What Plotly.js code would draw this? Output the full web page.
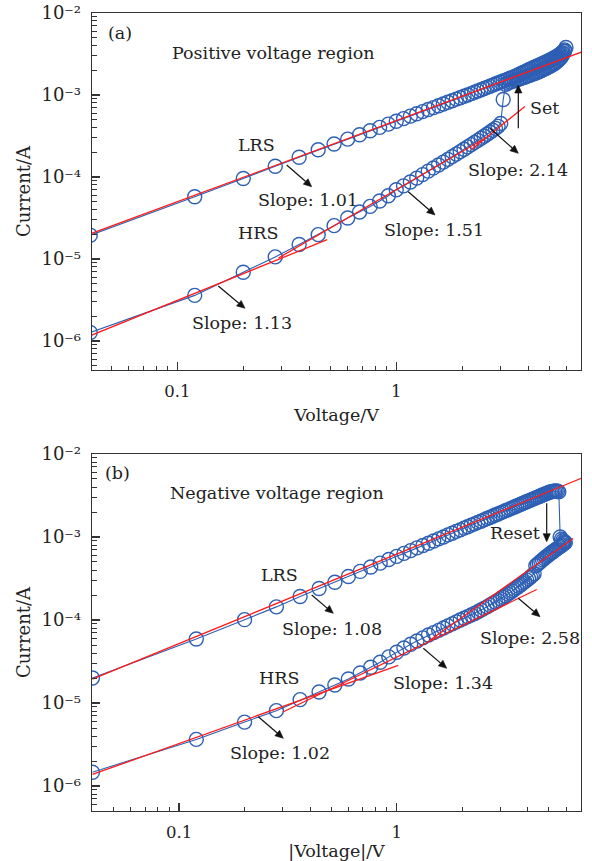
<!DOCTYPE html>
<html><head><meta charset="utf-8">
<script src="https://cdn.plot.ly/plotly-3.0.1.min.js"></script>
<style>html,body{margin:0;padding:0;background:#fff}#chart{width:592px;height:861px}</style>
</head><body><div id="chart"></div>
<script>
// ---------- data ----------
const sweepUpVoltage = [0.04,0.12,0.20,0.28,0.36,0.44,0.52,0.60,0.68,0.76,0.84,0.92,1.00,1.08,1.16,1.24,1.32,1.40,1.48,1.56,1.64,1.72,1.80,1.88,1.96,2.04,2.12,2.20,2.28,2.36,2.44,2.52,2.60,2.68,2.76,2.84,2.92,3.00,3.08,3.16,3.24,3.32,3.40,3.48,3.56,3.64,3.72,3.80,3.88,3.96,4.04,4.12,4.20,4.28,4.36,4.44,4.52,4.60,4.68,4.76,4.84,4.92,5.00,5.08,5.16,5.24,5.32,5.40,5.48,5.56,5.64,5.72,5.80,5.88,5.96];
const sweepDownVoltage = [5.88,5.80,5.72,5.64,5.56,5.48,5.40,5.32,5.24,5.16,5.08,5.00,4.92,4.84,4.76,4.68,4.60,4.52,4.44,4.36,4.28,4.20,4.12,4.04,3.96,3.88,3.80,3.72,3.64,3.56,3.48,3.40,3.32,3.24,3.16,3.08,3.00,2.92,2.84,2.76,2.68,2.60,2.52,2.44,2.36,2.28,2.20,2.12,2.04,1.96,1.88,1.80,1.72,1.64,1.56,1.48,1.40,1.32,1.24,1.16,1.08,1.00,0.92,0.84,0.76,0.68,0.60,0.52,0.44,0.36,0.28,0.20,0.12,0.04];

// (a) positive sweep: HRS up to Set, then LRS
const posUpCurrent = [1.27e-6,3.6e-6,6.9e-6,1.06e-5,1.50e-5,1.98e-5,2.55e-5,3.16e-5,3.74e-5,4.38e-5,5.1e-5,5.9e-5,7.0e-5,7.8e-5,8.7e-5,9.7e-5,1.07e-4,1.18e-4,1.29e-4,1.40e-4,1.52e-4,1.64e-4,1.77e-4,1.90e-4,2.04e-4,2.18e-4,2.33e-4,2.48e-4,2.64e-4,2.80e-4,2.97e-4,3.14e-4,3.32e-4,3.51e-4,3.71e-4,3.92e-4,4.14e-4,4.5e-4,8.8e-4,1.35e-3,1.40e-3,1.44e-3,1.47e-3,1.50e-3,1.53e-3,1.56e-3,1.60e-3,1.63e-3,1.66e-3,1.70e-3,1.73e-3,1.76e-3,1.80e-3,1.83e-3,1.87e-3,1.91e-3,1.95e-3,1.99e-3,2.03e-3,2.08e-3,2.12e-3,2.17e-3,2.22e-3,2.27e-3,2.33e-3,2.39e-3,2.46e-3,2.54e-3,2.63e-3,2.73e-3,2.85e-3,3.0e-3,3.2e-3,3.45e-3,3.8e-3];
const posDownCurrent = [3.55e-3,3.4e-3,3.28e-3,3.18e-3,3.1e-3,3.02e-3,2.95e-3,2.88e-3,2.82e-3,2.76e-3,2.70e-3,2.64e-3,2.58e-3,2.53e-3,2.48e-3,2.43e-3,2.38e-3,2.33e-3,2.28e-3,2.23e-3,2.18e-3,2.13e-3,2.08e-3,2.03e-3,1.98e-3,1.93e-3,1.88e-3,1.83e-3,1.78e-3,1.73e-3,1.68e-3,1.64e-3,1.60e-3,1.56e-3,1.52e-3,1.48e-3,1.44e-3,1.40e-3,1.36e-3,1.32e-3,1.28e-3,1.24e-3,1.20e-3,1.16e-3,1.12e-3,1.08e-3,1.04e-3,1.00e-3,9.65e-4,9.27e-4,8.9e-4,8.52e-4,8.15e-4,7.77e-4,7.4e-4,7.02e-4,6.65e-4,6.27e-4,5.9e-4,5.52e-4,5.15e-4,4.78e-4,4.41e-4,4.03e-4,3.66e-4,3.28e-4,2.90e-4,2.53e-4,2.15e-4,1.74e-4,1.35e-4,9.6e-5,5.75e-5,1.95e-5];

// (b) negative sweep: LRS up to Reset, then HRS
const negUpCurrent = [2.0e-5,5.9e-5,1.01e-4,1.44e-4,1.92e-4,2.40e-4,2.85e-4,3.35e-4,3.85e-4,4.35e-4,4.85e-4,5.35e-4,5.85e-4,6.35e-4,6.85e-4,7.4e-4,7.9e-4,8.4e-4,8.95e-4,9.5e-4,1.0e-3,1.06e-3,1.11e-3,1.17e-3,1.22e-3,1.28e-3,1.33e-3,1.39e-3,1.44e-3,1.50e-3,1.55e-3,1.61e-3,1.67e-3,1.72e-3,1.78e-3,1.84e-3,1.89e-3,1.95e-3,2.01e-3,2.07e-3,2.12e-3,2.18e-3,2.24e-3,2.30e-3,2.36e-3,2.42e-3,2.48e-3,2.54e-3,2.60e-3,2.66e-3,2.72e-3,2.78e-3,2.84e-3,2.90e-3,2.96e-3,3.02e-3,3.08e-3,3.14e-3,3.20e-3,3.26e-3,3.32e-3,3.38e-3,3.43e-3,3.48e-3,3.52e-3,3.55e-3,3.57e-3,3.58e-3,3.55e-3,3.5e-3,1.0e-3,9.4e-4,9.0e-4,8.8e-4,8.6e-4];
const negDownCurrent = [8.4e-4,8.1e-4,7.9e-4,7.7e-4,7.5e-4,7.3e-4,7.1e-4,6.9e-4,6.7e-4,6.5e-4,6.3e-4,6.1e-4,5.9e-4,5.7e-4,5.5e-4,5.3e-4,5.1e-4,4.9e-4,4.7e-4,4.5e-4,3.6e-4,3.45e-4,3.3e-4,3.15e-4,3.02e-4,2.9e-4,2.78e-4,2.66e-4,2.55e-4,2.44e-4,2.34e-4,2.24e-4,2.14e-4,2.05e-4,1.96e-4,1.88e-4,1.80e-4,1.72e-4,1.65e-4,1.58e-4,1.51e-4,1.44e-4,1.38e-4,1.32e-4,1.26e-4,1.20e-4,1.15e-4,1.10e-4,1.05e-4,1.0e-4,9.5e-5,9.0e-5,8.5e-5,8.0e-5,7.5e-5,7.05e-5,6.6e-5,6.1e-5,5.6e-5,5.1e-5,4.6e-5,4.1e-5,3.6e-5,3.1e-5,2.7e-5,2.3e-5,1.95e-5,1.65e-5,1.36e-5,1.1e-5,8.1e-6,5.9e-6,3.65e-6,1.47e-6];

// fitted lines (end points)
const fitA_LRS_V = [0.04, 7.0],   fitA_LRS_I = [2.02e-5, 3.33e-3];
const fitA_H1_V  = [0.04, 0.483], fitA_H1_I  = [1.16e-6, 1.72e-5];
const fitA_H2_V  = [0.29, 2.6],   fitA_H2_I  = [1.03e-5, 3.08e-4];
const fitA_H3_V  = [2.2, 3.87],   fitA_H3_I  = [2.15e-4, 7.26e-4];
const fitB_LRS_V = [0.04, 7.05],  fitB_LRS_I = [1.94e-5, 5.1e-3];
const fitB_H1_V  = [0.04, 1.017], fitB_H1_I  = [1.38e-6, 2.85e-5];
const fitB_H2_V  = [0.3, 4.4],    fitB_H2_I  = [7.8e-6, 2.33e-4];
const fitB_H3_V  = [1.42, 6.47],  fitB_H3_I  = [5.7e-5, 9.6e-4];

const xMajor = [0.1, 1];
const xMajorText = ['0.1', '1'];
const xMinor = [0.05,0.06,0.07,0.08,0.09,0.2,0.3,0.4,0.5,0.6,0.7,0.8,0.9,2,3,4,5,6];
const yMajor = [1e-6,1e-5,1e-4,1e-3,1e-2];
const yMajorText = ['10⁻⁶','10⁻⁵','10⁻⁴','10⁻³','10⁻²'];
const yMinor = [5e-7,6e-7,7e-7,8e-7,9e-7,2e-6,3e-6,4e-6,5e-6,6e-6,7e-6,8e-6,9e-6,2e-5,3e-5,4e-5,5e-5,6e-5,7e-5,8e-5,9e-5,2e-4,3e-4,4e-4,5e-4,6e-4,7e-4,8e-4,9e-4,2e-3,3e-3,4e-3,5e-3,6e-3,7e-3,8e-3,9e-3];

// ---------- styling ----------
const FONT = 'DejaVu Serif';
const BLUE = '#2d5fb4';
const RED = '#ff1a1a';
const AX = '#333';

function dataTrace(xa, ya, v, i) {
  return {x: v, y: i, xaxis: xa, yaxis: ya, mode: 'lines+markers', type: 'scatter',
    line: {color: BLUE, width: 1.1},
    marker: {symbol: 'circle-open', size: 14, color: BLUE, line: {width: 1.4, color: BLUE}},
    hoverinfo: 'skip'};
}
function fitTrace(xa, ya, v, i) {
  return {x: v, y: i, xaxis: xa, yaxis: ya, mode: 'lines', type: 'scatter',
    line: {color: RED, width: 1.3}, hoverinfo: 'skip'};
}

const traces = [
  dataTrace('x','y', sweepUpVoltage.concat(sweepDownVoltage), posUpCurrent.concat(posDownCurrent)),
  dataTrace('x2','y2', sweepUpVoltage.concat(sweepDownVoltage), negUpCurrent.concat(negDownCurrent)),
  fitTrace('x','y', fitA_LRS_V, fitA_LRS_I),
  fitTrace('x','y', fitA_H1_V, fitA_H1_I),
  fitTrace('x','y', fitA_H2_V, fitA_H2_I),
  fitTrace('x','y', fitA_H3_V, fitA_H3_I),
  fitTrace('x2','y2', fitB_LRS_V, fitB_LRS_I),
  fitTrace('x2','y2', fitB_H1_V, fitB_H1_I),
  fitTrace('x2','y2', fitB_H2_V, fitB_H2_I),
  fitTrace('x2','y2', fitB_H3_V, fitB_H3_I)
];

function xAxis(anchor, range, title) {
  return {type: 'log', range: range, anchor: anchor, domain: [0, 1],
    showgrid: false, zeroline: false, showline: true, mirror: true, linecolor: AX, linewidth: 1.3,
    ticks: 'inside', ticklen: 8, tickwidth: 1.2, tickcolor: AX,
    tickmode: 'array', tickvals: xMajor, ticktext: xMajorText,
    minor: {tickmode: 'array', tickvals: xMinor, ticks: 'inside', ticklen: 4.5, tickwidth: 1, tickcolor: AX},
    tickfont: {family: FONT, size: 16.5, color: '#222'}, ticklabelstandoff: 6,
    title: {text: title, font: {family: FONT, size: 17.5, color: '#222'}, standoff: 8}};
}
function yAxis(anchor, range, domain) {
  return {type: 'log', range: range, anchor: anchor, domain: domain,
    showgrid: false, zeroline: false, showline: true, mirror: true, linecolor: AX, linewidth: 1.3,
    ticks: 'inside', ticklen: 8, tickwidth: 1.2, tickcolor: AX,
    tickmode: 'array', tickvals: yMajor, ticktext: yMajorText,
    minor: {tickmode: 'array', tickvals: yMinor, ticks: 'inside', ticklen: 4.5, tickwidth: 1, tickcolor: AX},
    tickfont: {family: FONT, size: 18, color: '#222'}, ticklabelstandoff: 6,
    title: {text: 'Current/A', font: {family: FONT, size: 18, color: '#222'}, standoff: 6}};
}

// pixel -> paper helpers for annotation placement
const ML = 92, MT = 13, PW = 489, PH = 798;
const px = x => (x - ML) / PW;
const py = y => (MT + PH - y) / PH;
const TF = {family: FONT, size: 17.5, color: '#222'};
function label(cx, cy, text) {
  return {xref: 'paper', yref: 'paper', x: px(cx), y: py(cy), text: text, showarrow: false,
    xanchor: 'center', yanchor: 'middle', font: TF};
}
// arrow drawn as shapes: a shaft and a filled triangular head
const shapes = [];
function arrow(tx, ty, hx, hy) {
  const dx = hx - tx, dy = hy - ty, len = Math.hypot(dx, dy);
  const ux = dx / len, uy = dy / len, hl = 8, hw = 3.6;
  const bx = hx - ux * hl, by = hy - uy * hl;
  shapes.push({type: 'line', xref: 'paper', yref: 'paper', x0: px(tx), y0: py(ty), x1: px(bx), y1: py(by),
    line: {color: '#111', width: 1.2}});
  const p1 = [bx - uy * hw, by + ux * hw], p2 = [bx + uy * hw, by - ux * hw];
  shapes.push({type: 'path', xref: 'paper', yref: 'paper',
    path: 'M' + px(hx) + ',' + py(hy) + ' L' + px(p1[0]) + ',' + py(p1[1]) + ' L' + px(p2[0]) + ',' + py(p2[1]) + ' Z',
    fillcolor: '#111', line: {color: '#111', width: 0.6}});
}

const annotations = [
  label(120, 33, '(a)'),
  label(273, 53, 'Positive voltage region'),
  label(256, 145, 'LRS'),
  label(308, 200, 'Slope: 1.01'),
  label(258, 233, 'HRS'),
  label(242, 323, 'Slope: 1.13'),
  label(434, 230, 'Slope: 1.51'),
  label(518, 170, 'Slope: 2.14'),
  label(544, 108, 'Set'),
  label(117, 473, '(b)'),
  label(277, 493, 'Negative voltage region'),
  label(279, 575, 'LRS'),
  label(332, 629, 'Slope: 1.08'),
  label(279, 678, 'HRS'),
  label(280, 753, 'Slope: 1.02'),
  label(443, 683, 'Slope: 1.34'),
  label(530, 638, 'Slope: 2.58'),
  label(515, 533, 'Reset')
];
arrow(286.7, 165, 311.7, 186.7);
arrow(218.3, 286, 245, 308.3);
arrow(408.3, 191.7, 435, 215);
arrow(490, 128.3, 518.3, 153.3);
arrow(518.3, 128.3, 518.3, 85);
arrow(311.7, 595, 333.3, 613.3);
arrow(258.3, 716.7, 283.3, 738.3);
arrow(423.3, 648.3, 446.7, 668.3);
arrow(518.3, 598.3, 540, 616.7);
arrow(546.7, 503.3, 546.7, 541.7);

const layout = {
  width: 592, height: 861,
  margin: {l: ML, r: 11, t: MT, b: 50},
  paper_bgcolor: '#fff', plot_bgcolor: '#fff',
  showlegend: false,
  font: {family: FONT, color: '#222'},
  xaxis: xAxis('y', [-1.39, 0.844], 'Voltage/V'),
  yaxis: yAxis('x', [-6.354, -2], [0.5526, 1]),
  xaxis2: xAxis('y2', [-1.40, 0.847], '|Voltage|/V'),
  yaxis2: yAxis('x2', [-6.30, -2], [0, 0.4474]),
  annotations: annotations,
  shapes: shapes
};

Plotly.newPlot('chart', traces, layout, {staticPlot: true, displayModeBar: false});
</script></body></html>
